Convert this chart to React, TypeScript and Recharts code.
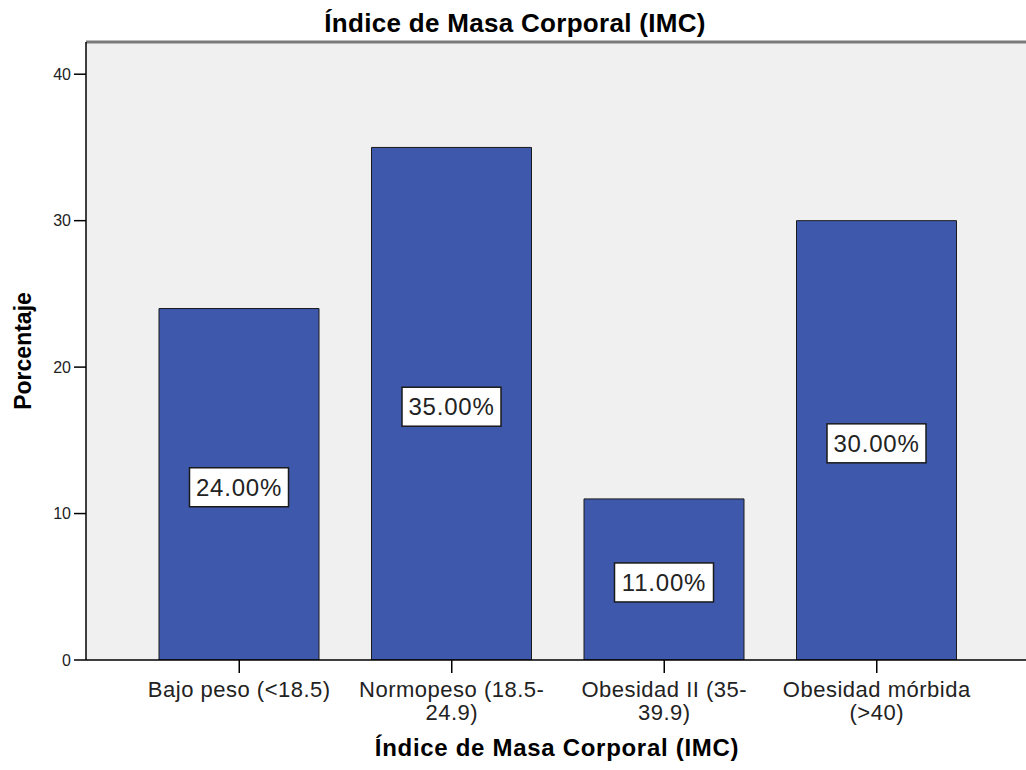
import React from 'react'
import { BarChart, Bar, XAxis, YAxis, CartesianGrid, ReferenceLine, LabelList } from 'recharts'

const categories = [
  'Bajo peso (<18.5)',
  'Normopeso (18.5-24.9)',
  'Obesidad II (35-39.9)',
  'Obesidad mórbida (>40)',
]
// how each category label wraps under the axis
const tickLines = [
  ['Bajo peso (<18.5)'],
  ['Normopeso (18.5-', '24.9)'],
  ['Obesidad II (35-', '39.9)'],
  ['Obesidad mórbida', '(>40)'],
]
const percentages = [24, 35, 11, 30]
const yTicks = [0, 10, 20, 30, 40]
const yMax = 42.2

const chartTitle = 'Índice de Masa Corporal (IMC)'
const xTitle = 'Índice de Masa Corporal (IMC)'
const yTitle = 'Porcentaje'

const FONT = '"Liberation Sans", Arial, sans-serif'

const data = categories.map((name, i) => ({ name, value: percentages[i] }))

function CategoryTick(props: any) {
  const { x, y, payload } = props
  const idx = categories.indexOf(payload.value)
  const lines = idx >= 0 ? tickLines[idx] : [payload.value]
  return (
    <text x={x} y={y} textAnchor="middle" fontSize={22} fill="#222" fontFamily={FONT} letterSpacing={0.5}>
      {lines.map((line, i) => (
        <tspan key={i} x={x} dy={i === 0 ? 24 : 23}>
          {line}
        </tspan>
      ))}
    </text>
  )
}

function ValueBox(props: any) {
  const { x, y, width, height, value } = props
  const cx = Number(x) + Number(width) / 2
  const cy = Number(y) + Number(height) / 2 + 3
  return (
    <g>
      <rect x={cx - 49.5} y={cy - 19.5} width={99} height={39} fill="#ffffff" stroke="#1a1a1a" strokeWidth={1.5} />
      <text x={cx} y={cy + 8.5} textAnchor="middle" fontSize={24} fill="#222" fontFamily={FONT} letterSpacing={0.8}>
        {`${Number(value).toFixed(2)}%`}
      </text>
    </g>
  )
}

export default function App() {
  return (
    <div style={{ position: 'absolute', left: 0, top: 0, width: 1026, height: 770, background: '#fff', fontFamily: FONT }}>
      <BarChart width={1026} height={770} data={data} margin={{ top: 42, right: 0, bottom: 0, left: 0 }}>
        <CartesianGrid fill="#f0f0f0" horizontal={false} vertical={false} />
        <ReferenceLine y={yMax} stroke="#7a7a7a" strokeWidth={3} />
        <XAxis
          dataKey="name"
          height={110}
          padding={{ left: 47, right: 43 }}
          axisLine={{ stroke: '#000', strokeWidth: 1.5 }}
          tickLine={{ stroke: '#000', strokeWidth: 1.5 }}
          tickSize={13}
          tickMargin={0}
          interval={0}
          tick={<CategoryTick />}
        />
        <YAxis
          width={86}
          domain={[0, yMax]}
          ticks={yTicks}
          allowDataOverflow
          axisLine={{ stroke: '#000', strokeWidth: 1.5 }}
          tickLine={{ stroke: '#000', strokeWidth: 1.5 }}
          tickSize={12}
          tickMargin={3}
          tick={{ fontSize: 16, fill: '#222', fontFamily: FONT }}
        />
        <Bar dataKey="value" fill="#3e58ac" stroke="#1a1a1a" strokeWidth={1} barSize={160} isAnimationActive={false}>
          <LabelList dataKey="value" content={<ValueBox />} />
        </Bar>
      </BarChart>
      <svg width={1026} height={770} style={{ position: 'absolute', left: 0, top: 0, pointerEvents: 'none' }}>
        <text x={515} y={32} textAnchor="middle" fontSize={26} fontWeight="bold" fill="#000" fontFamily={FONT} letterSpacing={0.3}>
          {chartTitle}
        </text>
        <text x={557} y={756} textAnchor="middle" fontSize={24} fontWeight="bold" fill="#000" fontFamily={FONT} letterSpacing={0.7}>
          {xTitle}
        </text>
        <text
          x={31}
          y={351}
          textAnchor="middle"
          fontSize={23}
          fontWeight="bold"
          fill="#000"
          fontFamily={FONT}
          transform="rotate(-90 31 351)"
        >
          {yTitle}
        </text>
      </svg>
    </div>
  )
}
